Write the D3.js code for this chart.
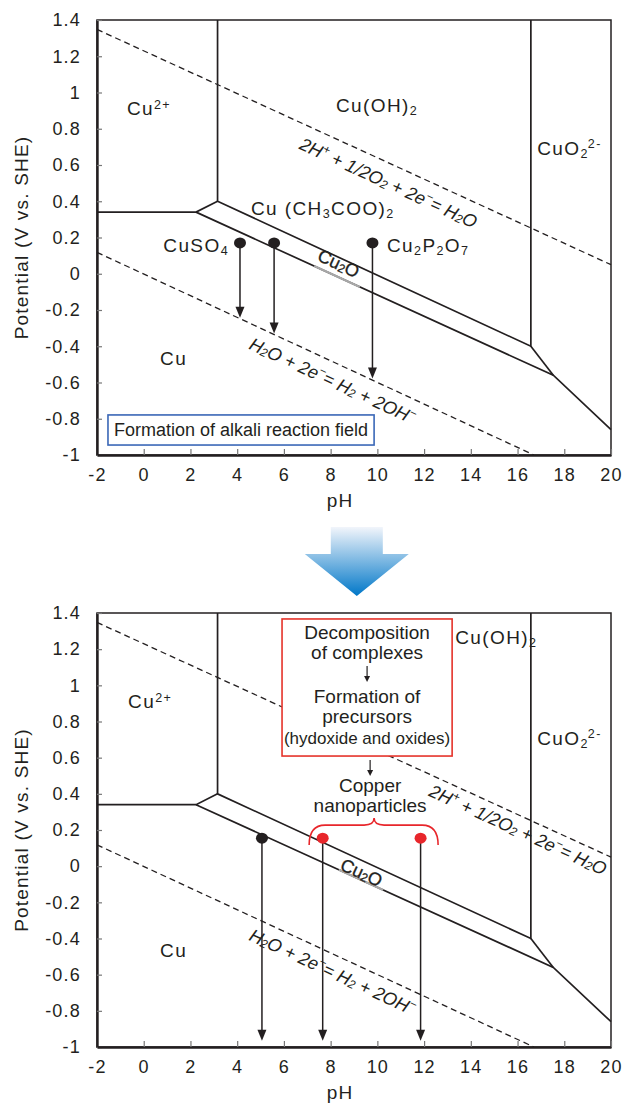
<!DOCTYPE html>
<html>
<head>
<meta charset="utf-8">
<script src="https://cdn.jsdelivr.net/npm/d3@7"></script>
<style>
  body { margin: 0; background: #fff; }
  text { font-family: "Liberation Sans", Arial, sans-serif; fill: #231f20; }
</style>
</head>
<body>
<div id="fig"></div>
<script>
// ---- data ----
const xTicks = d3.range(-2, 21, 2);
const yTicks = [-1, -0.8, -0.6, -0.4, -0.2, 0, 0.2, 0.4, 0.6, 0.8, 1, 1.2, 1.4];

// phase boundaries (pH, E)
const phaseLines = [
    [[3.16, 1.4], [3.16, 0.40], [16.57, -0.40], [16.57, 1.4]],
    [[-2, 0.34], [2.24, 0.34], [3.16, 0.40]],
    [[2.24, 0.34], [17.53, -0.56], [20, -0.86]],
    [[16.57, -0.40], [17.53, -0.56]]
];
const o2Line = [[-2, 1.348], [20, 0.05]];
const h2Line = [[-2, 0.118], [16.7, -1]];

// top diagram: starting solutions and where they end
const topDots = [
    {pH: 4.12, E: 0.17, end: -0.243, red: false},
    {pH: 5.58, E: 0.17, end: -0.329, red: false},
    {pH: 9.79, E: 0.17, end: -0.578, red: false}
];
// bottom diagram
const bottomDots = [
    {pH: 5.06, E: 0.155, end: -0.965, red: false},
    {pH: 7.66, E: 0.155, end: -0.965, red: true},
    {pH: 11.85, E: 0.155, end: -0.965, red: true}
];

// region labels: [pH, E, parts, anchor]
const topLabels = [
    [-0.72, 0.876, [["Cu"], ["2+", "sup"]], "start"],
    [8.23, 0.892, [["Cu(OH)"], ["2", "sub"]], "start"],
    [16.84, 0.655, [["CuO"], ["2", "sub"], ["2-", "supafter"]], "start"],
    [4.59, 0.324, [["Cu (CH"], ["3", "sub"], ["COO)"], ["2", "sub"]], "start"],
    [3.65, 0.12, [["CuSO"], ["4", "sub"]], "end"],
    [10.41, 0.12, [["Cu"], ["2", "sub"], ["P"], ["2", "sub"], ["O"], ["7", "sub"]], "start"],
    [0.70, -0.503, [["Cu"]], "start"]
];
const bottomLabels = [
    [-0.67, 0.875, [["Cu"], ["2+", "sup"]], "start"],
    [13.33, 1.229, [["Cu(OH)"], ["2", "sub"]], "start"],
    [16.84, 0.670, [["CuO"], ["2", "sub"], ["2-", "supafter"]], "start"],
    [0.70, -0.503, [["Cu"]], "start"]
];

// rotated labels
const o2Parts = [["2H"], ["+", "sup"], [" + 1/2O"], ["2", "sub"], [" + 2e"], ["−", "sup"], ["= H"], ["2", "sub"], ["O"]];
const h2Parts = [["H"], ["2", "sub"], ["O + 2e"], ["−", "sup"], ["= H"], ["2", "sub"], [" + 2OH"], ["−", "sup"]];
const cu2oParts = [["Cu"], ["2", "sub"], ["O"]];

const topO2Label = [10.45, 0.495];
const topH2Label = [8.06, -0.597];
const topCu2O = [8.32, 0.05];
const bottomO2Label = [16.0, 0.194];
const bottomH2Label = [8.06, -0.591];
const bottomCu2O = [9.30, -0.042];

// box texts in the bottom diagram
const boxLines = [
    ["Decomposition", 1.256, 19],
    ["of complexes", 1.146, 19],
    ["Formation of", 0.902, 19],
    ["precursors", 0.792, 19],
    ["(hydoxide and oxides)", 0.676, 17]
];
const productLines = [["Copper", 0.410], ["nanoparticles", 0.299]];

// ---- layout ----
const W = 622, H = 1106;
const left = 97, right = 611;
const panels = [
    {top: 20, bottom: 455, dots: topDots, labels: topLabels, o2: topO2Label, h2: topH2Label, cu2o: topCu2O, grey: [7.3, 9.25]},
    {top: 613, bottom: 1047, dots: bottomDots, labels: bottomLabels, o2: bottomO2Label, h2: bottomH2Label, cu2o: bottomCu2O, grey: [8.35, 10.25]}
];

const svg = d3.select("#fig").append("svg")
    .attr("width", W)
    .attr("height", H);

const defs = svg.append("defs");
const grad = defs.append("linearGradient")
    .attr("id", "blueArrow")
    .attr("x1", 0).attr("y1", 0).attr("x2", 0).attr("y2", 1);
grad.append("stop").attr("offset", "0%").attr("stop-color", "#f2f5fb");
grad.append("stop").attr("offset", "100%").attr("stop-color", "#0077c8");

const x = d3.scaleLinear().domain([-2, 20]).range([left, right]);
const fmt = d => String(+d.toFixed(1));

function addParts(t, parts, size) {
    parts.forEach(p => {
        const kind = p[1] || "n";
        const ts = t.append("tspan").text(p[0]);
        if (kind === "sub") {
            ts.attr("font-size", size * 0.66).attr("baseline-shift", "-25%");
        } else if (kind === "sup") {
            ts.attr("font-size", size * 0.66).attr("baseline-shift", "45%");
        } else if (kind === "supafter") {
            ts.attr("font-size", size * 0.66).attr("baseline-shift", "55%").attr("dx", -1);
        }
    });
}

panels.forEach(p => {
    const y = d3.scaleLinear().domain([-1, 1.4]).range([p.bottom, p.top]);
    const g = svg.append("g");
    const line = d3.line().x(d => x(d[0])).y(d => y(d[1]));

    // angle of a line in screen space
    const angleOf = l => Math.atan2(y(l[1][1]) - y(l[0][1]), x(l[1][0]) - x(l[0][0])) * 180 / Math.PI;

    // dashed water lines
    [o2Line, h2Line].forEach(l => {
        g.append("path")
            .attr("d", line(l))
            .attr("fill", "none")
            .attr("stroke", "#231f20")
            .attr("stroke-width", 1.3)
            .attr("stroke-dasharray", "6,4");
    });

    // phase boundaries
    phaseLines.forEach(l => {
        g.append("path")
            .attr("d", line(l))
            .attr("fill", "none")
            .attr("stroke", "#231f20")
            .attr("stroke-width", 1.7)
            .attr("stroke-linejoin", "miter");
    });

    // grey part of the lower Cu2O boundary under the label
    const low = phaseLines[2];
    const lowE = ph => low[0][1] + (ph - low[0][0]) * (low[1][1] - low[0][1]) / (low[1][0] - low[0][0]);
    g.append("path")
        .attr("d", line(p.grey.map(ph => [ph, lowE(ph)])))
        .attr("stroke", "#a8a8a8")
        .attr("stroke-width", 2.2);

    // frame
    g.append("rect")
        .attr("x", left).attr("y", p.top)
        .attr("width", right - left).attr("height", p.bottom - p.top)
        .attr("fill", "none")
        .attr("stroke", "#231f20")
        .attr("stroke-width", 1.5);

    // axes
    const ya = g.append("g")
        .attr("transform", `translate(${left},0)`)
        .call(d3.axisLeft(y).tickValues(yTicks).tickFormat(fmt).tickSizeInner(-5).tickSizeOuter(0).tickPadding(16));
    const xa = g.append("g")
        .attr("transform", `translate(0,${p.bottom})`)
        .call(d3.axisBottom(x).tickValues(xTicks).tickFormat(d => d).tickSizeInner(-6).tickSizeOuter(0).tickPadding(13));
    [ya, xa].forEach(a => {
        a.select(".domain").attr("stroke", "#231f20").attr("stroke-width", 2.4);
        a.selectAll(".tick line").attr("stroke", "#777").attr("stroke-width", 1.2);
        a.selectAll(".tick text")
            .attr("font-size", 18)
            .attr("font-family", "\"Liberation Sans\", Arial, sans-serif")
            .attr("fill", "#231f20")
            .style("letter-spacing", "1.2px");
    });
    // drop the first x tick (sits on the y axis)
    xa.selectAll(".tick line").filter(d => d === -2).remove();

    g.append("text")
        .attr("transform", `translate(28,${(p.top + p.bottom) / 2}) rotate(-90)`)
        .attr("text-anchor", "middle")
        .attr("font-size", 19)
        .style("letter-spacing", "1.2px")
        .text("Potential (V  vs. SHE)");
    g.append("text")
        .attr("x", x(8.4))
        .attr("y", p.bottom + 52)
        .attr("text-anchor", "middle")
        .attr("font-size", 19)
        .style("letter-spacing", "1px")
        .text("pH");

    // region labels
    p.labels.forEach(l => {
        const t = g.append("text")
            .attr("x", x(l[0])).attr("y", y(l[1]))
            .attr("text-anchor", l[3])
            .attr("font-size", 19)
            .style("letter-spacing", "1.4px");
        addParts(t, l[2], 19);
    });

    // rotated water-line labels
    [[p.o2, o2Line, o2Parts], [p.h2, h2Line, h2Parts]].forEach(([pos, l, parts]) => {
        const t = g.append("text")
            .attr("transform", `translate(${x(pos[0])},${y(pos[1])}) rotate(${angleOf(l)})`)
            .attr("text-anchor", "middle")
            .attr("dominant-baseline", "middle")
            .attr("font-size", 18)
            .attr("font-style", "italic");
        addParts(t, parts, 18);
    });

    // Cu2O label
    const cu = g.append("text")
        .attr("transform", `translate(${x(p.cu2o[0])},${y(p.cu2o[1])}) rotate(${angleOf([phaseLines[0][1], phaseLines[0][2]])})`)
        .attr("text-anchor", "middle")
        .attr("dominant-baseline", "middle")
        .attr("font-size", 18)
        .attr("stroke", "#231f20")
        .attr("stroke-width", 0.3);
    addParts(cu, cu2oParts, 18);

    // arrows down from the starting points
    p.dots.forEach(d => {
        const cx = x(d.pH), y0 = y(d.E), y1 = y(d.end);
        g.append("line")
            .attr("x1", cx).attr("x2", cx)
            .attr("y1", y0).attr("y2", y1 - 8)
            .attr("stroke", "#231f20")
            .attr("stroke-width", 1.5);
        g.append("path")
            .attr("d", `M${cx - 4.5},${y1 - 11}L${cx + 4.5},${y1 - 11}L${cx},${y1}Z`)
            .attr("fill", "#231f20");
        g.append("ellipse")
            .attr("cx", cx).attr("cy", y0)
            .attr("rx", 6).attr("ry", 5.5)
            .attr("fill", d.red ? "#e8262b" : "#231f20");
    });

    p.y = y;
});

// top panel: blue box
{
    const y = panels[0].y;
    const bx0 = x(-1.53), bx1 = x(9.86), by0 = y(-0.779), by1 = y(-0.945);
    svg.append("rect")
        .attr("x", bx0).attr("y", by0)
        .attr("width", bx1 - bx0).attr("height", by1 - by0)
        .attr("fill", "#fff")
        .attr("stroke", "#3a67b7")
        .attr("stroke-width", 1.6);
    svg.append("text")
        .attr("x", (bx0 + bx1) / 2).attr("y", (by0 + by1) / 2)
        .attr("text-anchor", "middle")
        .attr("dominant-baseline", "central")
        .attr("font-size", 18)
        .text("Formation of alkali reaction field");
}

// blue arrow between the panels
{
    const cx = x(9.12), yTop = 527, yNeck = 554, yTip = 596;
    svg.append("path")
        .attr("d", `M${cx - 26},${yTop}L${cx + 26},${yTop}L${cx + 26},${yNeck}L${cx + 52},${yNeck}L${cx},${yTip}L${cx - 52},${yNeck}L${cx - 26},${yNeck}Z`)
        .attr("fill", "url(#blueArrow)");
}

// bottom panel: red box, brace, text
{
    const y = panels[1].y;
    const bx0 = x(5.92), bx1 = x(13.2), by0 = y(1.367), by1 = y(0.609);
    svg.append("rect")
        .attr("x", bx0).attr("y", by0)
        .attr("width", bx1 - bx0).attr("height", by1 - by0)
        .attr("fill", "#fff")
        .attr("stroke", "#e5332a")
        .attr("stroke-width", 1.6);
    const cxBox = x(9.56);
    boxLines.forEach(b => {
        svg.append("text")
            .attr("x", cxBox).attr("y", y(b[1]))
            .attr("text-anchor", "middle")
            .attr("font-size", b[2])
            .text(b[0]);
    });
    const smallArrow = (cx, e0, e1) => {
        const ya = y(e0), yb = y(e1);
        svg.append("line")
            .attr("x1", cx).attr("x2", cx).attr("y1", ya).attr("y2", yb - 4)
            .attr("stroke", "#231f20").attr("stroke-width", 1.2);
        svg.append("path")
            .attr("d", `M${cx - 3},${yb - 6}L${cx + 3},${yb - 6}L${cx},${yb}Z`)
            .attr("fill", "#231f20");
    };
    smallArrow(cxBox, 1.107, 1.018);
    const cxProd = x(9.69);
    smallArrow(cxProd, 0.587, 0.498);
    productLines.forEach(b => {
        svg.append("text")
            .attr("x", cxProd).attr("y", y(b[1]))
            .attr("text-anchor", "middle")
            .attr("font-size", 19)
            .text(b[0]);
    });

    // curly brace
    const x1 = x(7.08), x2 = x(12.6), xm = x(9.86);
    const yb = y(0.117), yt = y(0.227), ytip = y(0.266);
    svg.append("path")
        .attr("d", `M${x1},${yb}Q${x1},${yt} ${x1 + 16},${yt}L${xm - 10},${yt}Q${xm},${yt} ${xm},${ytip}Q${xm},${yt} ${xm + 10},${yt}L${x2 - 16},${yt}Q${x2},${yt} ${x2},${yb}`)
        .attr("fill", "none")
        .attr("stroke", "#e8262b")
        .attr("stroke-width", 1.6);
}
</script>
</body>
</html>
